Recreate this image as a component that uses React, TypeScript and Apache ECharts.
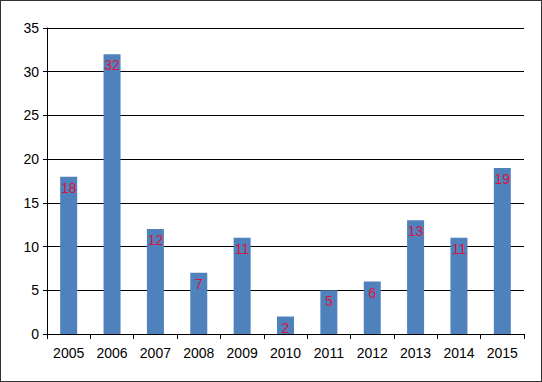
import React, { useEffect, useRef } from "react";
import * as echarts from "echarts";

const categories = ["2005", "2006", "2007", "2008", "2009", "2010", "2011", "2012", "2013", "2014", "2015"];
const values = [18, 32, 12, 7, 11, 2, 5, 6, 13, 11, 19];
const yTicks = { min: 0, max: 35, interval: 5 };

export default function App() {
  const ref = useRef<HTMLDivElement>(null);
  useEffect(() => {
    document.body.style.margin = "0";
    const chart = echarts.init(ref.current!, null, { renderer: "svg" });
    chart.setOption({
      animation: false,
      backgroundColor: "#ffffff",
      grid: { left: 46, right: 17, top: 27, bottom: 47, containLabel: false },
      xAxis: {
        type: "category",
        data: categories,
        axisLine: { show: true, lineStyle: { color: "#000", width: 1 } },
        axisTick: { show: true, length: 5, alignWithLabel: false, lineStyle: { color: "#000" } },
        axisLabel: { color: "#000", fontSize: 14, fontFamily: "Liberation Sans", margin: 12 },
        splitLine: { show: false },
      },
      yAxis: {
        type: "value",
        min: yTicks.min,
        max: yTicks.max,
        interval: yTicks.interval,
        axisLine: { show: true, lineStyle: { color: "#000", width: 1 } },
        axisTick: { show: true, length: 4, lineStyle: { color: "#000" } },
        axisLabel: { color: "#000", fontSize: 14, fontFamily: "Liberation Sans", margin: 8 },
        splitLine: { show: true, lineStyle: { color: "#000", width: 1 } },
      },
      series: [
        {
          type: "bar",
          data: values,
          barWidth: 17,
          itemStyle: { color: "#4F81BD" },
          label: {
            show: true,
            position: "insideTop",
            distance: 4,
            color: "#DC143C",
            fontSize: 14,
            fontFamily: "Liberation Sans",
          },
        },
      ],
    });
    return () => chart.dispose();
  }, []);
  return (
    <div style={{ width: 542, height: 382, boxSizing: "border-box", border: "1px solid #333", background: "#fff" }}>
      <div ref={ref} style={{ width: 540, height: 380 }} />
    </div>
  );
}
